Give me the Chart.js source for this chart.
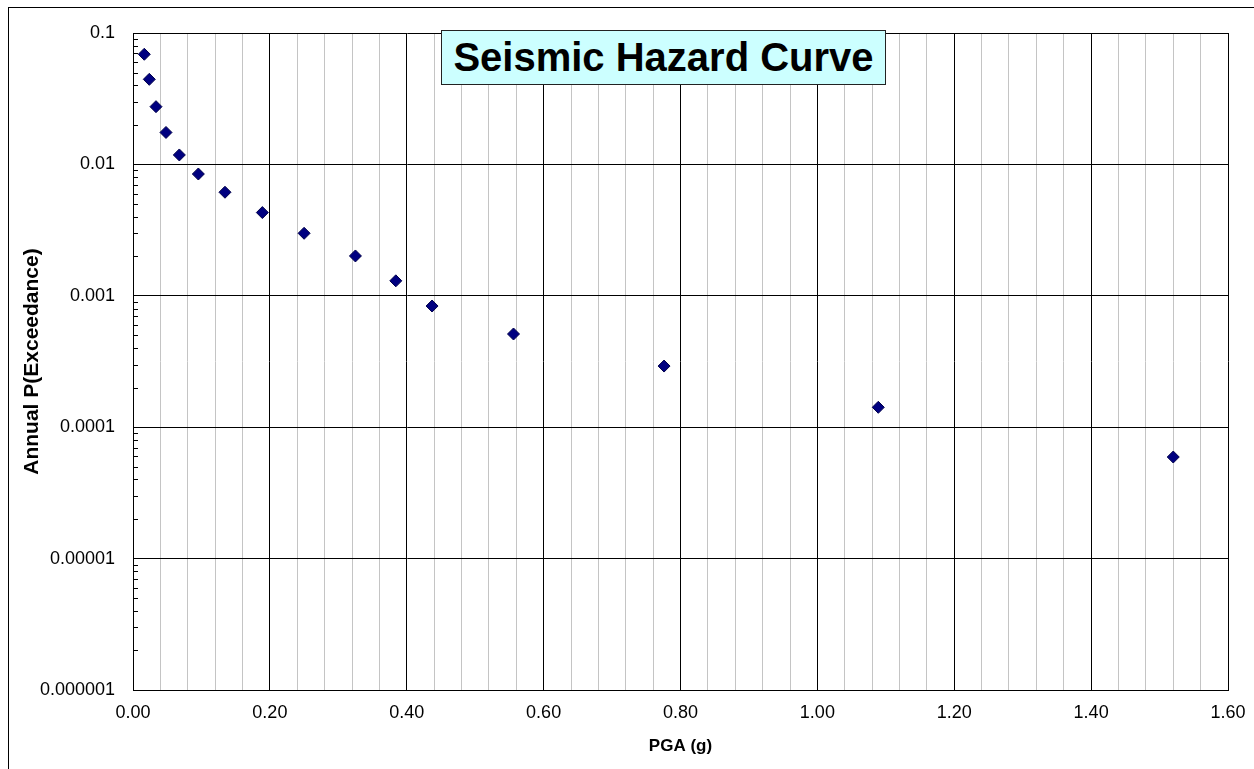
<!DOCTYPE html>
<html>
<head>
<meta charset="utf-8">
<script src="https://cdn.jsdelivr.net/npm/chart.js@4"></script>
<style>
  html, body { margin: 0; padding: 0; background: #fff; }
  #wrap { position: relative; width: 1254px; height: 769px; overflow: hidden; }
  #frame { position: absolute; left: 8px; top: 7px; width: 1300px; height: 900px; border: 1.5px solid #000; box-sizing: border-box; pointer-events: none; }
  #title { position: absolute; left: 441px; top: 30px; width: 445px; height: 55px; box-sizing: border-box;
           background: #ccffff; border: 1px solid #222; font: bold 40px "Liberation Sans", Arial, sans-serif;
           color: #000; text-align: center; line-height: 53px; white-space: nowrap; z-index: 2; }
  canvas { position: absolute; left: 0; top: 0; }
</style>
</head>
<body>
<div id="wrap">
  <canvas id="c" width="1254" height="769"></canvas>
  <div id="frame"></div>
  <div id="title">Seismic Hazard Curve</div>
</div>
<script>
// ---- data ----
const pgaValues = [0.0165, 0.0238, 0.0336, 0.0482, 0.0677, 0.0955, 0.1344, 0.189, 0.250, 0.325, 0.384, 0.437, 0.556, 0.776, 1.089, 1.520];
const exceedance = [0.0689, 0.0444, 0.0275, 0.0175, 0.0118, 0.00845, 0.00614, 0.0043, 0.00299, 0.00201, 0.0013, 0.000836, 0.000512, 0.000292, 0.0001417, 0.0000593];
const xTickLabels = ['0.00', '0.20', '0.40', '0.60', '0.80', '1.00', '1.20', '1.40', '1.60'];
const yTickValues = [0.000001, 0.00001, 0.0001, 0.001, 0.01, 0.1];
const yTickLabels = ['0.000001', '0.00001', '0.0001', '0.001', '0.01', '0.1'];
const xTitle = 'PGA (g)';
const yTitle = 'Annual P(Exceedance)';

const FONT = '"Liberation Sans", Arial, sans-serif';
const points = pgaValues.map((x, i) => ({ x: x, y: exceedance[i] }));

function isMajorX(v) { const r = v / 0.2; return Math.abs(r - Math.round(r)) < 1e-6; }
function majorYIndex(v) {
  for (let i = 0; i < yTickValues.length; i++) {
    if (Math.abs(Math.log10(v) - Math.log10(yTickValues[i])) < 1e-6) return i;
  }
  return -1;
}

const minorYTicks = {
  id: 'minorYTicks',
  afterDatasetsDraw(chart) {
    const ys = chart.scales.y, a = chart.chartArea, ctx = chart.ctx;
    ctx.save();
    ctx.strokeStyle = '#000';
    ctx.lineWidth = 1;
    ys.ticks.forEach(t => {
      if (majorYIndex(t.value) >= 0) return;
      const py = Math.round(ys.getPixelForValue(t.value)) + 0.5;
      ctx.beginPath();
      ctx.moveTo(a.left, py);
      ctx.lineTo(a.left + 5, py);
      ctx.stroke();
    });
    ctx.restore();
  }
};

new Chart(document.getElementById('c'), {
  type: 'scatter',
  data: {
    datasets: [{
      data: points,
      pointStyle: 'rectRot',
      pointRadius: 6,
      pointHoverRadius: 6,
      backgroundColor: '#000080',
      borderColor: '#00004a',
      borderWidth: 1,
      showLine: false
    }]
  },
  options: {
    responsive: false,
    animation: false,
    devicePixelRatio: 1,
    layout: { padding: { left: 8, right: 26, top: 33, bottom: 0 } },
    plugins: { legend: { display: false }, tooltip: { enabled: false }, title: { display: false } },
    scales: {
      x: {
        type: 'linear',
        min: 0, max: 1.6,
        afterFit(s) { s.height = 79; s.paddingLeft = 0; s.paddingRight = 0; },
        ticks: {
          stepSize: 0.04,
          autoSkip: false,
          maxRotation: 0,
          padding: 12,
          color: '#000',
          font: { family: FONT, size: 18 },
          callback(v) { if (!isMajorX(v)) return ''; return xTickLabels[Math.round(v / 0.2)]; }
        },
        grid: {
          drawTicks: false,
          lineWidth: 1,
          color(ctx) { return ctx.tick && isMajorX(ctx.tick.value) ? '#000' : '#c4c4c4'; }
        },
        border: { color: '#000', width: 1 },
        title: { display: true, text: xTitle, color: '#000', font: { family: FONT, size: 17, weight: 'bold' }, padding: { top: 4, bottom: 12 } }
      },
      y: {
        type: 'logarithmic',
        min: 0.000001, max: 0.1,
        afterFit(s) { s.width = 125; s.paddingTop = 0; s.paddingBottom = 0; },
        afterBuildTicks(s) {
          const t = [];
          for (let d = 0; d < yTickValues.length; d++) {
            const base = yTickValues[d];
            if (d === yTickValues.length - 1) { t.push({ value: base }); break; }
            for (let m = 1; m <= 9; m++) t.push({ value: +(m * base).toPrecision(6) });
          }
          s.ticks = t;
        },
        ticks: {
          autoSkip: false,
          padding: 18,
          color: '#000',
          font: { family: FONT, size: 18 },
          callback(v) { const i = majorYIndex(v); return i >= 0 ? yTickLabels[i] : ''; }
        },
        grid: {
          drawTicks: false,
          lineWidth: 1,
          color(ctx) { return ctx.tick && majorYIndex(ctx.tick.value) >= 0 ? '#000' : 'rgba(0,0,0,0)'; }
        },
        border: { color: '#000', width: 1 },
        title: { display: true, text: yTitle, color: '#000', font: { family: FONT, size: 21, weight: 'bold' }, padding: { top: 12, bottom: 4 } }
      }
    }
  },
  plugins: [minorYTicks]
});
</script>
</body>
</html>
